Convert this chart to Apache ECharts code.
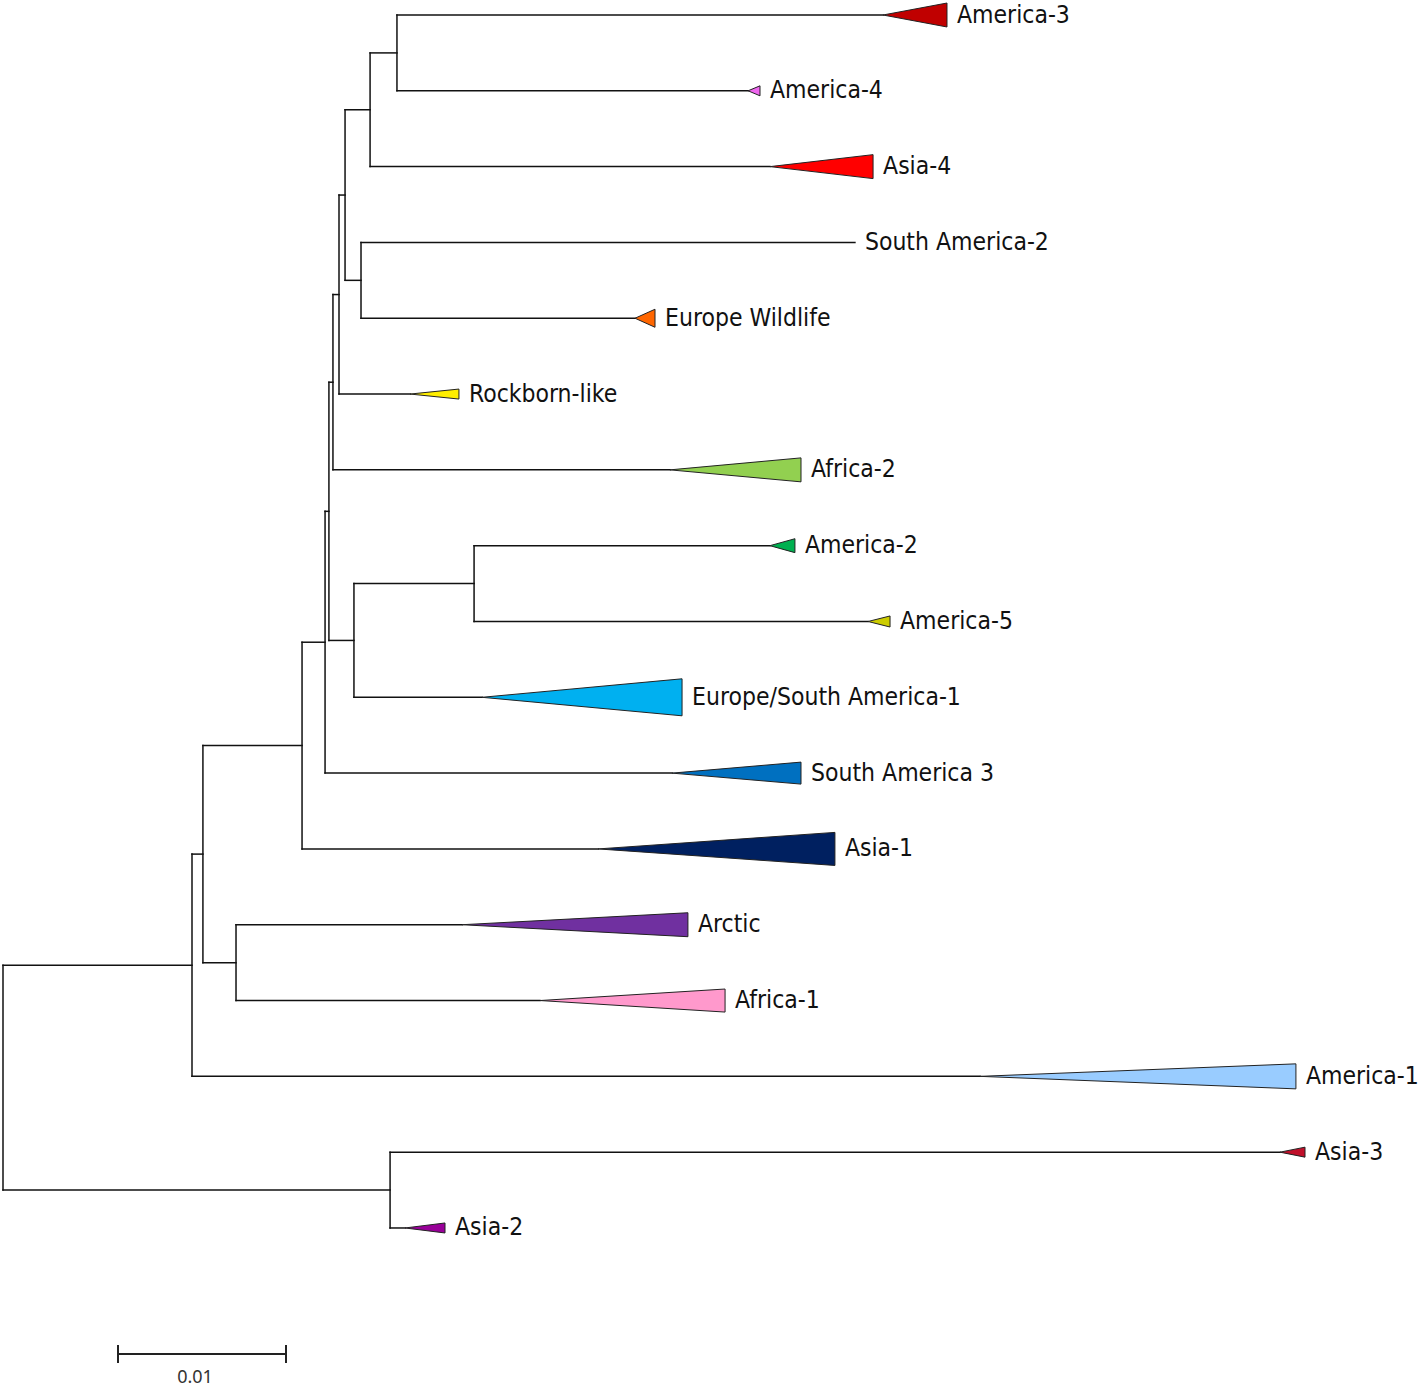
<!DOCTYPE html>
<html><head><meta charset="utf-8">
<script src="https://cdn.jsdelivr.net/npm/echarts@6/dist/echarts.min.js"></script>
<style>html,body{margin:0;padding:0;background:#fff}#c{width:1418px;height:1388px}</style>
</head><body><div id="c"></div>
<script>
// ---- Data: collapsed clades (tips), top to bottom ----
const cladeNames = ['America-3','America-4','Asia-4','South America-2','Europe Wildlife','Rockborn-like','Africa-2','America-2','America-5','Europe/South America-1','South America 3','Asia-1','Arctic','Africa-1','America-1','Asia-3','Asia-2'];
// distance from root (substitutions/site) where the stem branch ends
const stemEnd = [0.05238,0.04435,0.04565,0.05071,0.03762,0.02423,0.03970,0.04565,0.05149,0.02851,0.03982,0.03542,0.02732,0.03196,0.05815,0.07601,0.02393];
// distance from root of the deepest member of the collapsed clade (null = single sequence)
const cladeEnd = [0.05619,0.04506,0.05179,null,0.03881,0.02714,0.04750,0.04714,0.05280,0.04042,0.04750,0.04952,0.04077,0.04298,0.07696,0.07750,0.02631];
// half-height of collapsed clade triangle, in tip-row units
const cladeSpread = [0.158,0.066,0.158,0,0.119,0.066,0.158,0.092,0.073,0.244,0.145,0.218,0.158,0.152,0.165,0.066,0.066];
const cladeColors = ['#C00000','#EE66EE','#FF0000','#000000','#FF6600','#FFEE00','#92D050','#00B050','#CCCC00','#00B0F0','#0070C0','#002060','#7030A0','#FF99CC','#99CCFF','#C0102A','#990099'];

// ---- Data: internal nodes ----
const nodeIds =      ['root','nA','nB','nC','nD','nE','nF','nG','nAf2','nRock','nN','nAs4','nAm34','nSA2','nH','nAm25'];
const nodeDepth =    [0,0.01125,0.01190,0.01387,0.02304,0.01780,0.01917,0.01940,0.01964,0.02000,0.02036,0.02185,0.02345,0.02131,0.02089,0.02804];
const nodeChildren = [
  ['nA','nD'],
  ['nB','America-1'],
  ['nE','nC'],
  ['Arctic','Africa-1'],
  ['Asia-3','Asia-2'],
  ['nF','Asia-1'],
  ['nG','South America 3'],
  ['nAf2','nH'],
  ['nRock','Africa-2'],
  ['nN','Rockborn-like'],
  ['nAs4','nSA2'],
  ['nAm34','Asia-4'],
  ['America-3','America-4'],
  ['South America-2','Europe Wildlife'],
  ['nAm25','Europe/South America-1'],
  ['America-2','America-5']
];
const scaleBarLength = 0.01;
const scaleBarLabel = '0.01';

// ---- Build tree geometry (data units) ----
const segments = [];
function place(id){
  const li = cladeNames.indexOf(id);
  if (li >= 0) return {y: li, x: stemEnd[li]};
  const ni = nodeIds.indexOf(id);
  const d = nodeDepth[ni];
  const kids = nodeChildren[ni].map(place);
  const ys = kids.map(k => k.y);
  const y0 = Math.min(...ys), y1 = Math.max(...ys);
  segments.push([d, y0, d, y1]);
  kids.forEach(k => segments.push([d, k.y, k.x, k.y]));
  return {y: (y0 + y1) / 2, x: d};
}
place('root');

const clades = cladeNames.map((n, i) => [stemEnd[i], i, cladeEnd[i] == null ? stemEnd[i] : cladeEnd[i], cladeSpread[i], i]);

const FONT = '"DejaVu Sans Condensed", "DejaVu Sans", sans-serif';
const chart = echarts.init(document.getElementById('c'), null, {renderer: 'svg'});
chart.setOption({
  animation: false,
  backgroundColor: '#fff',
  grid: {left: 3, right: 3.8, top: 15, bottom: 8.4},
  xAxis: {type: 'value', min: 0, max: 0.084, show: false},
  yAxis: {type: 'value', min: 0, max: 18, inverse: true, show: false},
  series: [
    {
      type: 'custom', name: 'branches', data: segments,
      encode: {x: [0, 2], y: [1, 3]}, clip: false, silent: true,
      renderItem(params, api) {
        const p1 = api.coord([api.value(0), api.value(1)]);
        const p2 = api.coord([api.value(2), api.value(3)]);
        return {type: 'line', shape: {x1: p1[0], y1: p1[1], x2: p2[0], y2: p2[1]},
          style: {stroke: '#111', lineWidth: 1.5, lineCap: 'square'}};
      }
    },
    {
      type: 'custom', name: 'clades', data: clades,
      encode: {x: [0, 2], y: 1}, clip: false, silent: true,
      renderItem(params, api) {
        const x0 = api.value(0), y = api.value(1), x1 = api.value(2), s = api.value(3), i = api.value(4);
        const a = api.coord([x0, y]);
        const t = api.coord([x1, y - s]);
        const b = api.coord([x1, y + s]);
        const children = [];
        if (s > 0) {
          children.push({type: 'polygon', shape: {points: [a, t, b]},
            style: {fill: cladeColors[i], stroke: '#222', lineWidth: 1}});
        }
        children.push({type: 'text', style: {text: cladeNames[i], x: t[0] + 10, y: a[1] - 1,
          fill: '#111', font: '24.5px ' + FONT, align: 'left', verticalAlign: 'middle'}});
        return {type: 'group', children};
      }
    },
    {
      type: 'custom', name: 'scale', data: [[scaleBarLength]], silent: true, clip: false,
      encode: {x: 0},
      renderItem(params, api) {
        const len = api.size([api.value(0), 0])[0];
        const x0 = 118, y0 = 1354;
        return {type: 'group', children: [
          {type: 'line', shape: {x1: x0, y1: y0, x2: x0 + len, y2: y0}, style: {stroke: '#222', lineWidth: 2}},
          {type: 'line', shape: {x1: x0, y1: y0 - 9, x2: x0, y2: y0 + 9}, style: {stroke: '#222', lineWidth: 2}},
          {type: 'line', shape: {x1: x0 + len, y1: y0 - 9, x2: x0 + len, y2: y0 + 9}, style: {stroke: '#222', lineWidth: 2}},
          {type: 'text', style: {text: scaleBarLabel, x: x0 + len / 2 - 7, y: y0 + 22, fill: '#333',
            font: '18px "Noto Sans", sans-serif', align: 'center', verticalAlign: 'middle'}}
        ]};
      }
    }
  ]
});
</script></body></html>
